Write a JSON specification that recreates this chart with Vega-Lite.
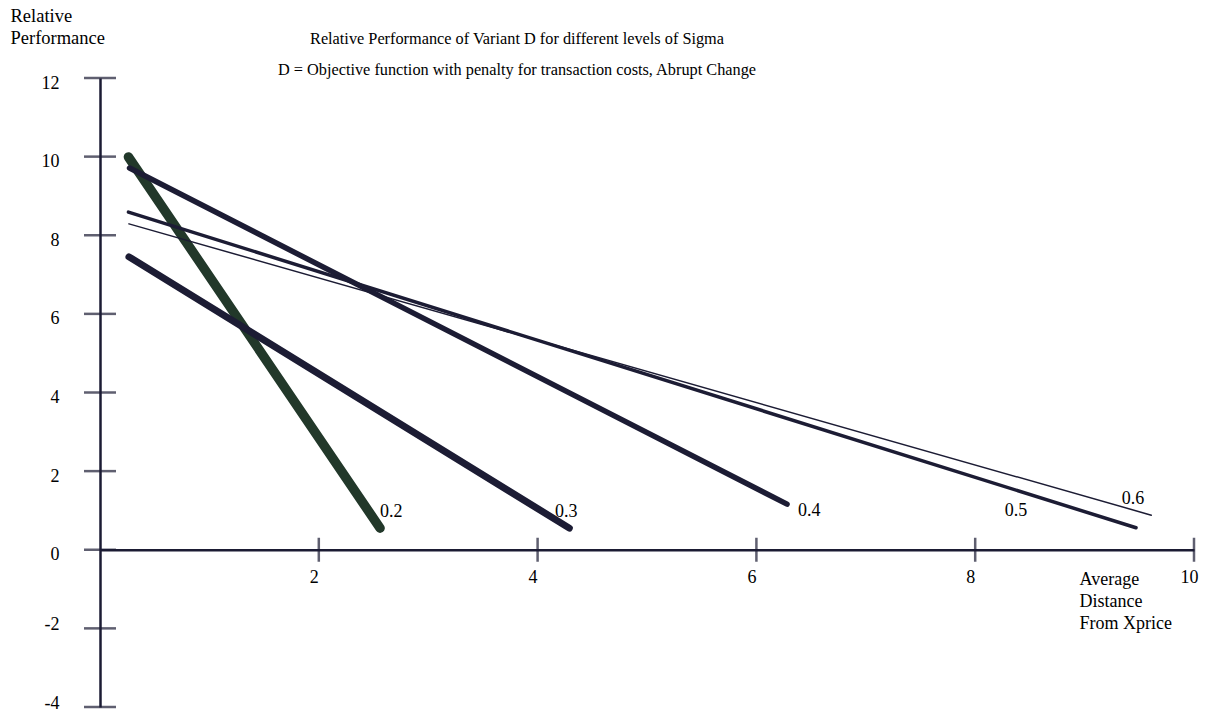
{
  "$schema": "https://vega.github.io/schema/vega-lite/v6.json",
  "width": 1094,
  "height": 629,
  "autosize": "none",
  "padding": {"left": 100, "top": 78, "right": 16, "bottom": 6},
  "background": "white",
  "config": {"view": {"stroke": null}, "font": "Liberation Serif"},
  "title": {
    "text": "Relative Performance of Variant D for different levels of Sigma",
    "subtitle": "D = Objective function with penalty for transaction costs, Abrupt Change",
    "anchor": "middle",
    "frame": "group",
    "dx": -130,
    "dy": 74,
    "font": "Liberation Serif",
    "fontSize": 16.3,
    "fontWeight": "normal",
    "color": "black",
    "subtitleFont": "Liberation Serif",
    "subtitleFontSize": 16.3,
    "subtitleColor": "black",
    "subtitlePadding": 14,
    "offset": 2
  },
  "datasets": {
    "lines": [
      {"sigma": "0.2", "x": 0.26, "y": 9.99},
      {"sigma": "0.2", "x": 2.56, "y": 0.55},
      {"sigma": "0.3", "x": 0.265, "y": 7.45},
      {"sigma": "0.3", "x": 4.29, "y": 0.55},
      {"sigma": "0.4", "x": 0.27, "y": 9.71},
      {"sigma": "0.4", "x": 6.28, "y": 1.16},
      {"sigma": "0.5", "x": 0.26, "y": 8.59},
      {"sigma": "0.5", "x": 9.47, "y": 0.56},
      {"sigma": "0.6", "x": 0.265, "y": 8.29},
      {"sigma": "0.6", "x": 9.61, "y": 0.88}
    ],
    "labels": [
      {"label": "0.2", "x": 2.56, "y": 0.96},
      {"label": "0.3", "x": 4.16, "y": 0.96},
      {"label": "0.4", "x": 6.38, "y": 0.99},
      {"label": "0.5", "x": 8.27, "y": 0.99},
      {"label": "0.6", "x": 9.34, "y": 1.29}
    ],
    "yticks": [
      {"v": 12}, {"v": 10}, {"v": 8}, {"v": 6}, {"v": 4}, {"v": 2}, {"v": 0}, {"v": -2}, {"v": -4}
    ],
    "xticks": [
      {"v": 2}, {"v": 4}, {"v": 6}, {"v": 8}, {"v": 10}
    ]
  },
  "layer": [
    {
      "data": {"name": "lines"},
      "mark": {"type": "line", "strokeCap": "round", "strokeJoin": "round"},
      "encoding": {
        "x": {
          "field": "x", "type": "quantitative",
          "scale": {"domain": [0, 10], "nice": false, "zero": false},
          "axis": {
            "values": [2, 4, 6, 8, 10],
            "labelExpr": "'' + datum.value",
            "offset": -157.25,
            "grid": false,
            "ticks": false,
            "domainColor": "#1b1b33",
            "domainWidth": 2.5,
            "labelFont": "Liberation Serif",
            "labelFontSize": 18,
            "labelColor": "black",
            "labelBaseline": "alphabetic",
            "labelPadding": 33,
            "labelOffset": -5,
            "labelFlush": false,
            "title": ["Average", "Distance", "From Xprice"],
            "titleFont": "Liberation Serif",
            "titleFontSize": 18,
            "titleFontWeight": "normal",
            "titleColor": "black",
            "titleAlign": "left",
            "titleBaseline": "alphabetic",
            "titleAngle": 0,
            "titleX": 979,
            "titleY": 35,
            "titleLineHeight": 22
          }
        },
        "y": {
          "field": "y", "type": "quantitative",
          "scale": {"domain": [-4, 12], "nice": false, "zero": false},
          "axis": {
            "values": [12, 10, 8, 6, 4, 2, 0, -2, -4],
            "labelExpr": "'' + datum.value",
            "grid": false,
            "ticks": false,
            "domainColor": "#1b1b33",
            "domainWidth": 2.5,
            "labelFont": "Liberation Serif",
            "labelFontSize": 18,
            "labelColor": "black",
            "labelBaseline": "middle",
            "labelPadding": 41,
            "labelOffset": {"condition": {"test": "datum.value < 0", "value": -4}, "value": 5},
            "labelFlush": false,
            "title": ["Relative", "Performance"],
            "titleFont": "Liberation Serif",
            "titleFontSize": 18.5,
            "titleFontWeight": "normal",
            "titleColor": "black",
            "titleAlign": "left",
            "titleBaseline": "alphabetic",
            "titleAngle": 0,
            "titleX": -90,
            "titleY": -57,
            "titleLineHeight": 22
          }
        },
        "color": {
          "field": "sigma", "type": "nominal",
          "scale": {"domain": ["0.2", "0.3", "0.4", "0.5", "0.6"], "range": ["#22382a", "#1c1c34", "#1c1c34", "#1c1c34", "#1c1c34"]},
          "legend": null
        },
        "strokeWidth": {
          "field": "sigma", "type": "nominal",
          "scale": {"type": "ordinal", "domain": ["0.2", "0.3", "0.4", "0.5", "0.6"], "range": [9.5, 7, 5.5, 3.5, 1.5]},
          "legend": null
        }
      }
    },
    {
      "data": {"name": "yticks"},
      "mark": {"type": "tick", "orient": "horizontal", "size": 32, "thickness": 2.5, "color": "#1b1b33"},
      "encoding": {
        "y": {"field": "v", "type": "quantitative"},
        "x": {"datum": 0, "type": "quantitative"}
      }
    },
    {
      "data": {"name": "xticks"},
      "mark": {"type": "tick", "orient": "vertical", "size": 24, "thickness": 2.5, "color": "#1b1b33"},
      "encoding": {
        "x": {"field": "v", "type": "quantitative"},
        "y": {"datum": 0, "type": "quantitative"}
      }
    },
    {
      "data": {"name": "labels"},
      "mark": {"type": "text", "align": "left", "baseline": "middle", "font": "Liberation Serif", "fontSize": 18, "color": "black"},
      "encoding": {
        "x": {"field": "x", "type": "quantitative"},
        "y": {"field": "y", "type": "quantitative"},
        "text": {"field": "label", "type": "nominal"}
      }
    }
  ]
}
